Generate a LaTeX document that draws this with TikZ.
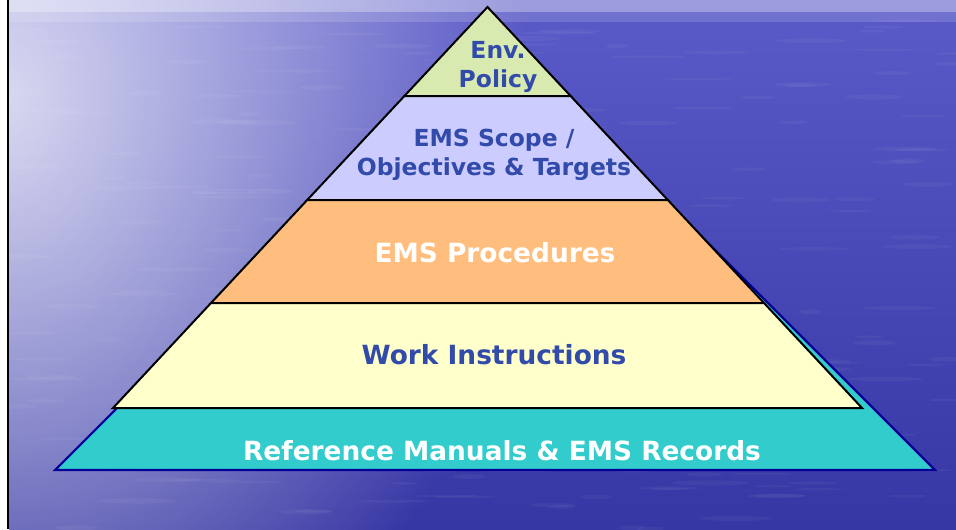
\documentclass[tikz,border=0pt]{standalone}
\usepackage{fontspec}
\setmainfont{DejaVu Sans}
\usetikzlibrary{fadings}
\usepackage{xcolor}

% цвета фона и уровней
\definecolor{seatop}{RGB}{90,90,200}
\definecolor{seabottom}{RGB}{54,54,164}
\definecolor{policygreen}{RGB}{216,234,176}
\definecolor{scopelilac}{RGB}{204,204,255}
\definecolor{procorange}{RGB}{255,190,125}
\definecolor{workyellow}{RGB}{255,255,204}
\definecolor{recordteal}{RGB}{51,204,204}
\definecolor{recordnavy}{RGB}{0,0,150}
\definecolor{labelblue}{RGB}{50,75,170}

\tikzfading[name=glow, inner color=transparent!22, outer color=transparent!100]

\begin{document}
\begin{tikzpicture}[x=0.75pt, y=-0.75pt]

    % Стили уровней и подписей
    \tikzstyle{layer} = [draw=black, line width=1.5pt, line join=miter]
    \tikzstyle{biglabel} = [font=\bfseries\fontsize{19.8}{24}\selectfont, anchor=base]
    \tikzstyle{toplabel} = [font=\bfseries\fontsize{17.6}{21.3}\selectfont, align=center, text=labelblue]

    \useasboundingbox (0,0) rectangle (956,529);

    % Фон: море с бликом слева сверху
    \fill[white] (0,0) rectangle (956,529);
    \begin{scope}
        \clip (9,0) rectangle (956,529);
        \shade[top color=seatop, bottom color=seabottom] (9,0) rectangle (956,529);
        \fill[white, path fading=glow] (0,100) ellipse [x radius=400pt, y radius=500pt];
        \fill[white, opacity=.4] (9,0) rectangle (956,12);
        \fill[white, opacity=.15] (9,12) rectangle (956,22);
        % блики на воде
        \pgfmathsetseed{17}
        \foreach \i in {1,...,220} {
            \pgfmathsetmacro{\sx}{10+rnd*946}
            \pgfmathsetmacro{\sy}{20+rnd*509}
            \pgfmathsetmacro{\sl}{8+rnd*22}
            \pgfmathsetmacro{\sh}{0.8+rnd*1.2}
            \fill[white, opacity=.045] (\sx,\sy) ellipse [x radius=\sl pt, y radius=\sh pt];
        }
    \end{scope}
    \draw[black, line width=1.9pt] (8.2,0) -- (8.2,529);

    % Нижний уровень (бирюзовый треугольник позади)
    \draw[fill=recordteal, draw=recordnavy, line width=1.6pt, line join=miter]
        (495,30) -- (935,470) -- (55,470) -- cycle;

    % Верхний уровень
    \draw[layer, fill=policygreen] (487.5,7) -- (570.6,96) -- (404.4,96) -- cycle;

    % Второй уровень
    \draw[layer, fill=scopelilac] (404.4,96) -- (570.6,96) -- (667.8,200) -- (307.2,200) -- cycle;

    % Третий уровень
    \draw[layer, fill=procorange] (307.2,200) -- (667.8,200) -- (764,303) -- (211,303) -- cycle;

    % Четвёртый уровень
    \draw[layer, fill=workyellow] (211,303) -- (764,303) -- (862,408) -- (113,408) -- cycle;

    % Подписи
    \node[toplabel] (policy) at (498,67) {Env.\\Policy};
    \node[toplabel] (scope) at (494,155) {EMS Scope /\\Objectives \& Targets};
    \node[biglabel, text=white] (procedures) at (495,262) {EMS Procedures};
    \node[biglabel, text=labelblue] (instructions) at (494,364) {Work Instructions};
    \node[biglabel, text=white] (records) at (502,460) {Reference Manuals \& EMS Records};

\end{tikzpicture}
\end{document}
